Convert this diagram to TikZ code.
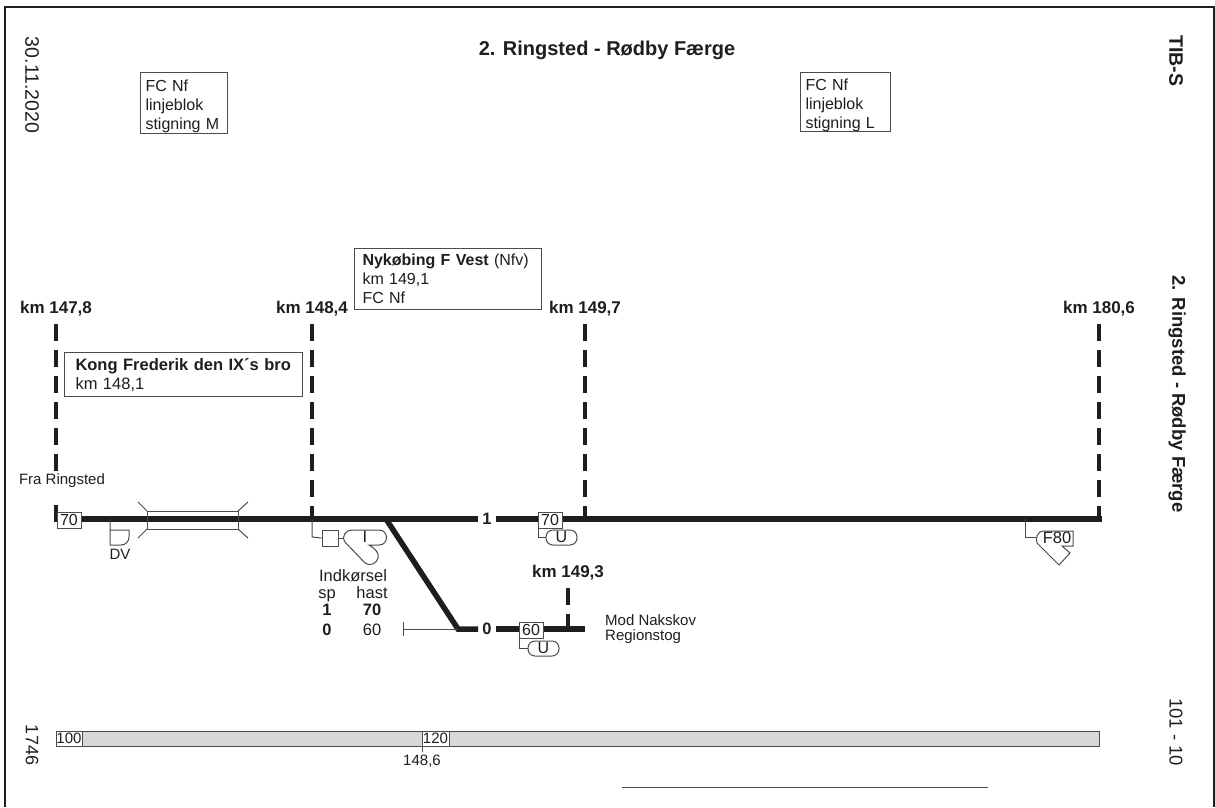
\documentclass[tikz,border=0pt]{standalone}
\usepackage{fontspec}
\setmainfont{Liberation Sans}
\usetikzlibrary{positioning}
\definecolor{barfill}{HTML}{D8D8D8}
\definecolor{ink}{HTML}{1E1E1E}
\tikzset{
  track/.style={line width=5.5pt,color=ink},
  kmline/.style={line width=3.6pt,color=ink,dash pattern=on 17pt off 9pt},
  thin/.style={line width=1pt,color=ink!80},
  label/.style={inner sep=0pt,text=ink,font=\fontsize{16.5}{19}\selectfont},
  small/.style={inner sep=0pt,text=ink,font=\fontsize{15}{18}\selectfont},
  kmlabel/.style={inner sep=0pt,text=ink,font=\fontsize{17}{20}\selectfont\bfseries},
  side/.style={inner sep=0pt,text=ink,rotate=-90,font=\fontsize{19.5}{22}\selectfont},
  infobox/.style={draw=ink!80,line width=1pt,fill=white,anchor=north west,align=left,inner xsep=5pt,inner ysep=0pt,text=ink,font=\fontsize{16}{19}\selectfont},
  speed/.style={draw=ink!80,line width=1pt,fill=white,inner sep=0pt,minimum width=24pt,minimum height=16pt,text=ink,font=\fontsize{16}{18}\selectfont},
  tracknum/.style={inner sep=0pt,text=ink,font=\fontsize{16.5}{19}\selectfont\bfseries},
  signal/.style={draw=ink!80,line width=1pt,fill=white},
  pill/.style={draw=ink!80,line width=1pt,fill=white,rounded corners=7pt,minimum width=31pt,minimum height=15pt,inner sep=0pt,text=ink,font=\fontsize{16}{18}\selectfont},
  barbox/.style={draw=ink!80,line width=1pt,fill=white,inner sep=0pt,minimum height=15pt,text=ink,font=\fontsize{15}{18}\selectfont}
}
\begin{document}
\begin{tikzpicture}[x=1pt,y=-1pt]
\useasboundingbox (0,0) rectangle (1215,807);

% frame
\draw[line width=1.2pt,color=ink] (5,807)--(5,7)--(1214,7)--(1214,807);

% titles
\node[inner sep=0pt,text=ink,font=\fontsize{20}{24}\selectfont\bfseries] (title) at (607,50) {2. Ringsted - Rødby Færge};
\node[side] (date) at (32,85) {30.11.2020};
\node[side,font=\fontsize{18}{22}\selectfont] (num) at (32,745) {1746};
\node[side,font=\fontsize{19.5}{22}\selectfont\bfseries] (tib) at (1176,61) {TIB-S};
\node[side,font=\fontsize{18.5}{22}\selectfont\bfseries] (section) at (1177,394) {2. Ringsted - Rødby Færge};
\node[side,font=\fontsize{18.5}{22}\selectfont] (page) at (1176,732) {101 - 10};

% boxes on top
\node[infobox,text width=77pt,minimum height=61pt] (blockm) at (140,72) {\rule{0pt}{18pt}FC Nf\\linjeblok\\stigning M};
\node[infobox,text width=80pt,minimum height=59pt] (blockl) at (800,72) {\rule{0pt}{18pt}FC Nf\\linjeblok\\stigning L};
\node[infobox,text width=171pt,minimum height=61pt,inner xsep=8pt] (nfv) at (354,248) {\textbf{Nykøbing F Vest} (Nfv)\\km 149,1\\FC Nf};

% km markers
\node[kmlabel] (km1) at (56,309) {km 147,8};
\node[kmlabel] (km2) at (312,309) {km 148,4};
\node[kmlabel] (km3) at (585,309) {km 149,7};
\node[kmlabel] (km4) at (1099,309) {km 180,6};
\node[kmlabel] (km5) at (568,573) {km 149,3};

\coordinate (a1) at (56,324);
\coordinate (a2) at (56,471);
\coordinate (a3) at (56,505);
\coordinate (a4) at (56,522);
\coordinate (b1) at (312,324);
\coordinate (b2) at (312,519);
\coordinate (c1) at (585,324);
\coordinate (c2) at (585,519);
\coordinate (d1) at (1099,324);
\coordinate (d2) at (1099,522);
\coordinate (e1) at (568,588);
\coordinate (e2) at (568,629);
\draw[kmline] (a1)--(a2);
\draw[kmline] (a3)--(a4);
\draw[kmline] (b1)--(b2);
\draw[kmline] (c1)--(c2);
\draw[kmline] (d1)--(d2);
\draw[kmline] (e1)--(e2);

\node[infobox,minimum height=44pt,inner xsep=11pt,text width=216pt,font=\fontsize{16.5}{19}\selectfont] (bridge) at (64,352) {\textbf{Kong Frederik den IX´s bro}\\km 148,1};
\node[small] (fra) at (62,481) {Fra Ringsted};

% tracks
\coordinate (t0) at (56,519);
\coordinate (t1) at (478,519);
\coordinate (t2) at (496,519);
\coordinate (t3) at (1102,519);
\coordinate (sw) at (386,519);
\coordinate (u0) at (458,629);
\coordinate (u1) at (478,629);
\coordinate (u2) at (496,629);
\coordinate (u3) at (585,629);
\coordinate (stop) at (403,629);
\draw[track] (t0)--(t1);
\draw[track] (t2)--(t3);
\draw[track] (sw)--(u0)--(u1);
\draw[track] (u2)--(u3);
\draw[thin] (stop)--(u0);
\draw[thin] (403,622)--(403,636);
\node[tracknum] (one) at (487,519) {1};
\node[tracknum] (zero) at (487,629) {0};

% bridge symbol
\draw[thin] (147,511) rectangle (238,529);
\draw[thin] (147,511)--(138,502);
\draw[thin] (238,511)--(248,502);
\draw[thin] (147,529)--(138,538);
\draw[thin] (238,529)--(248,538);

% speed signs
\node[speed] (v70a) at (69,520) {70};
\node[speed] (v70b) at (550,520) {70};
\node[speed] (v60) at (531,630) {60};

% DV
\draw[thin] (110,519)--(110,545)--(121,545) .. controls (126,545) and (129,541) .. (129,537)--(129,530)--(110,530);
\node[small] (dv) at (120,554) {DV};

% signal at km 148,4
\node[draw=ink!80,line width=1pt,fill=white,minimum width=16pt,minimum height=16pt,inner sep=0pt] (sq) at (330,538) {};
\draw[thin] (312,519)--(312,537)--(sq.west);
\draw[thin] (sq.east)--(343,538);
\draw[signal] (352,530)--(379,530) .. controls (389,530) and (389,545) .. (379,545)--(369,545)
  .. controls (376,549) and (379,553) .. (378,558)
  .. controls (377,563) and (370,567) .. (365,563)
  --(345,542) .. controls (341,536) and (346,530) .. (352,530)--cycle;
\node[label] (i) at (365,537) {I};

% U signals
\draw[thin] (538,528)--(538,537)--(546,537);
\node[pill] (ua) at (561.5,537.5) {U};
\draw[thin] (519,638)--(519,648)--(528,648);
\node[pill] (ub) at (543.5,648.5) {U};

% F80
\draw[thin] (1025,519)--(1025,537)--(1036,537);
\draw[signal] (1043,531)--(1073,531)--(1073,546)--(1062,546)--(1070,553)--(1059,565)--(1037,543) .. controls (1035,538) and (1038,531) .. (1043,531)--cycle;
\node[label] (f80) at (1057,538) {F80};

% indkorsel table
\node[label,anchor=base] (ind) at (353,581) {Indkørsel};
\node[label,anchor=base] (sp) at (327,598) {sp};
\node[label,anchor=base] (hast) at (372,598) {hast};
\node[label,font=\fontsize{16.5}{19}\selectfont\bfseries] (s1) at (327,610) {1};
\node[label,font=\fontsize{16.5}{19}\selectfont\bfseries] (h70) at (372,610) {70};
\node[label,font=\fontsize{16.5}{19}\selectfont\bfseries] (s0) at (327,630) {0};
\node[label] (h60) at (372,630) {60};

% Nakskov
\node[small,anchor=west] (nak) at (605,620) {Mod Nakskov};
\node[small,anchor=west] (reg) at (605,637) {Regionstog};

% speed bar
\draw[line width=1pt,color=ink!80,fill=barfill] (56,731) rectangle (1099,746);
\node[barbox,minimum width=26pt] (b100) at (69,738.5) {100};
\node[barbox,minimum width=27pt] (b120) at (435.5,738.5) {120};
\draw[thin] (422,746)--(422,752);
\node[small] (k) at (422,761) {148,6};

% line at the bottom
\draw[thin] (622,787)--(988,787);
\end{tikzpicture}
\end{document}
